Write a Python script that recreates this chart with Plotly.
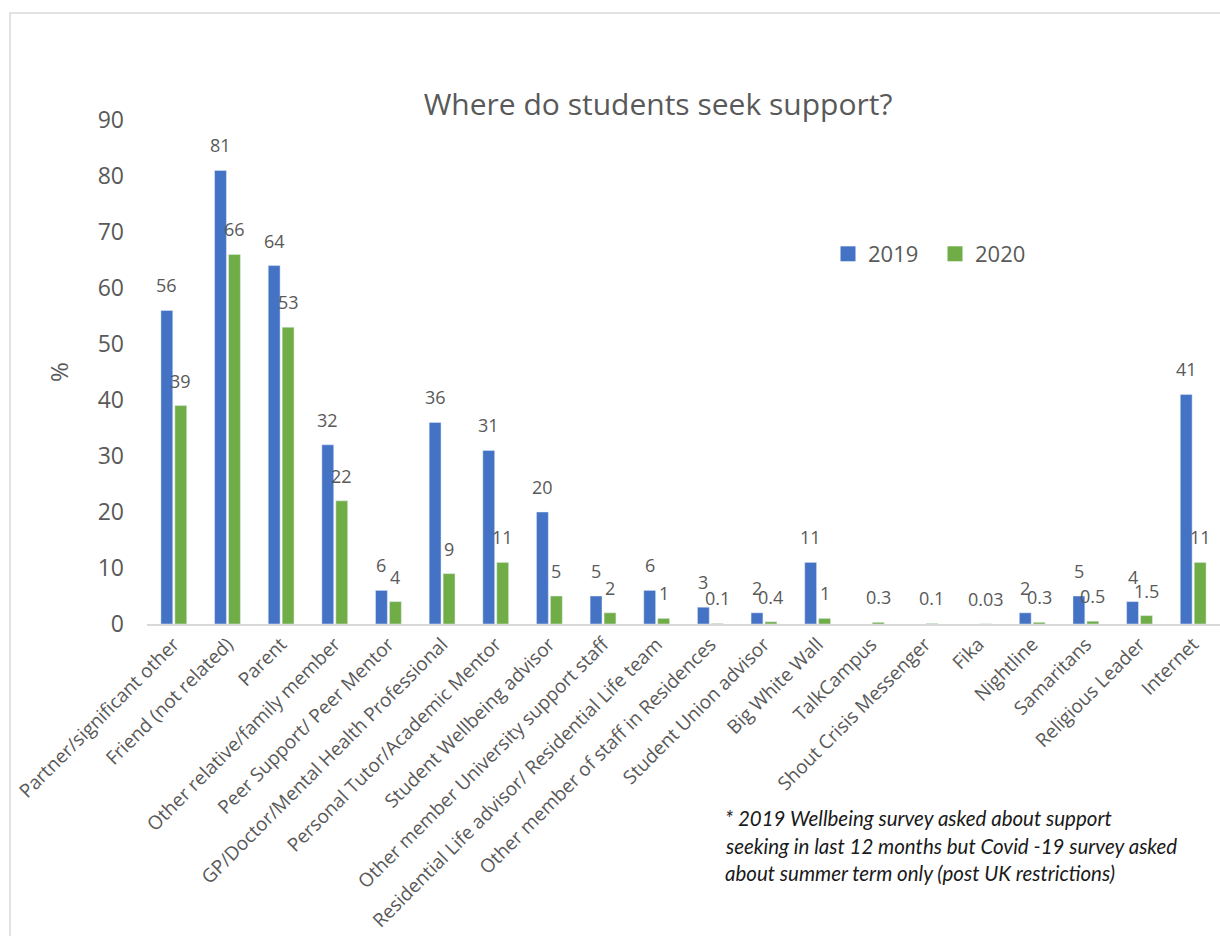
import plotly.graph_objects as go

# Support sources surveyed, with % of students using each
categories = [
    "Partner/significant other",
    "Friend (not related)",
    "Parent",
    "Other relative/family member",
    "Peer Support/ Peer Mentor",
    "GP/Doctor/Mental Health Professional",
    "Personal Tutor/Academic Mentor",
    "Student Wellbeing advisor",
    "Other member University support staff",
    "Residential Life advisor/ Residential Life team",
    "Other member of staff in Residences",
    "Student Union advisor",
    "Big White Wall",
    "TalkCampus",
    "Shout Crisis Messenger",
    "Fika",
    "Nightline",
    "Samaritans",
    "Religious Leader",
    "Internet",
]
values_2019 = [56, 81, 64, 32, 6, 36, 31, 20, 5, 6, 3, 2, 11, None, None, None, 2, 5, 4, 41]
values_2020 = [39, 66, 53, 22, 4, 9, 11, 5, 2, 1, 0.1, 0.4, 1, 0.3, 0.1, 0.03, 0.3, 0.5, 1.5, 11]
y_ticks = [0, 10, 20, 30, 40, 50, 60, 70, 80, 90]

footnote_lines = [
    "* 2019 Wellbeing survey asked about support",
    "seeking in last 12 months but Covid -19 survey asked",
    "about summer term only (post UK restrictions)",
]

BLUE = "#4472C4"
GREEN = "#70AD47"
TEXT = "#595959"
FONT = "Open Sans"

W, H = 1220, 936
L, R, T, B = 147, 0, 120, 312
plot_w = W - L - R
plot_h = H - T - B


def px_x(px):
    return (px - L) / plot_w


def px_y(py):
    return (H - B - py) / plot_h


fig = go.Figure()
fig.add_trace(go.Bar(name="2019", x=categories, y=values_2019, marker_color=BLUE,
                     showlegend=False))
fig.add_trace(go.Bar(name="2020", x=categories, y=values_2020, marker_color=GREEN,
                     showlegend=False))

# legend keys drawn as larger square swatches
for name, color in (("2019", BLUE), ("2020", GREEN)):
    fig.add_trace(go.Scatter(
        name=name, x=[None], y=[None], mode="markers",
        marker=dict(symbol="square", size=15, color=color),
        showlegend=True, hoverinfo="skip",
    ))

annotations = []
# value labels above each bar
for series, shift in ((values_2019, -7), (values_2020, 7)):
    for cat, v in zip(categories, series):
        if v is None:
            continue
        annotations.append(dict(
            x=cat, y=v, xref="x", yref="y", text=f"{v:g}",
            showarrow=False, xanchor="center", yanchor="bottom",
            xshift=shift, yshift=11,
            font=dict(family=FONT, size=18, color=TEXT),
        ))

# footnote, one annotation per line
for i, line in enumerate(footnote_lines):
    annotations.append(dict(
        x=px_x(723), y=px_y(818 + i * 27.5), xref="paper", yref="paper",
        text=f"<i>{line}</i>", showarrow=False,
        xanchor="left", yanchor="middle", align="left",
        font=dict(family="Lato", size=20.5, color="#1a1a1a"),
    ))

fig.update_layout(
    width=W, height=H,
    margin=dict(l=L, r=R, t=T, b=B, autoexpand=False),
    paper_bgcolor="white", plot_bgcolor="white",
    font=dict(family=FONT, color=TEXT),
    title=dict(
        text="Where do students seek support?",
        x=658 / W, xanchor="center",
        y=1 - 104 / H, yanchor="middle",
        font=dict(family=FONT, size=30, color=TEXT),
    ),
    barmode="group", bargap=0.48, bargroupgap=0.15,
    showlegend=True,
    legend=dict(
        orientation="h", x=px_x(828), y=px_y(254), xanchor="left", yanchor="middle",
        font=dict(family=FONT, size=22, color=TEXT),
        entrywidth=62, entrywidthmode="pixels",
        bgcolor="rgba(0,0,0,0)", itemclick=False, itemsizing="trace",
    ),
    annotations=annotations,
    shapes=[dict(
        type="rect", xref="paper", yref="paper",
        x0=px_x(10), x1=px_x(1230), y0=px_y(950), y1=px_y(13),
        line=dict(color="#d9d9d9", width=1.5), fillcolor="rgba(0,0,0,0)", layer="below",
    )],
)

fig.update_xaxes(
    type="category", tickangle=-45,
    tickfont=dict(family=FONT, size=19, color=TEXT),
    showline=True, linecolor="#d9d9d9", linewidth=1.5,
    showgrid=False, ticks="", automargin=False,
)
fig.update_yaxes(
    range=[0, 90], tickvals=y_ticks, ticktext=[str(t) for t in y_ticks],
    tickfont=dict(family=FONT, size=23, color=TEXT),
    showgrid=False, zeroline=False, showline=False, ticks="",
    ticklabelstandoff=22,
    title=dict(text="%", font=dict(family=FONT, size=24, color=TEXT), standoff=22),
    automargin=False,
)

fig.write_html("out.html")
